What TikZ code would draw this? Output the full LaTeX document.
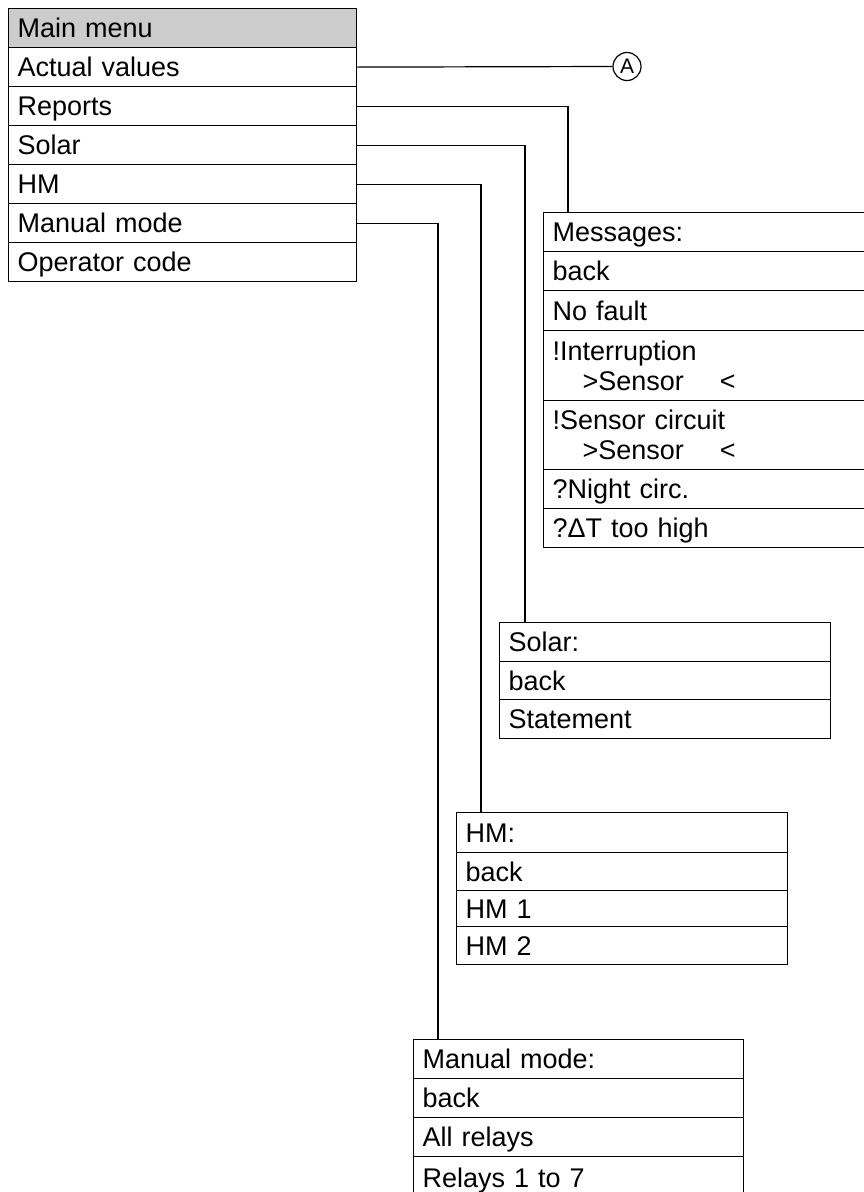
\documentclass[tikz,border=0pt]{standalone}
\usepackage{fontspec}
\setmainfont{Liberation Sans}
\begin{document}
\begin{tikzpicture}[x=1pt,y=-1pt,
  line width=1.2pt,
  rowbox/.style={draw, rectangle, anchor=north west, inner xsep=9pt, inner ysep=0pt,
    align=left, text height=19pt, text depth=0pt, minimum height=#1,
    font=\fontsize{27}{30}\selectfont},
  rowbox/.default=39pt,
  tworow/.style={rowbox=#1, text depth=30pt},
  wmain/.style={text width=330pt, minimum width=348pt},
  wmsg/.style={text width=309pt, minimum width=327pt},
  wsol/.style={text width=313pt, minimum width=331pt},
  whm/.style={text width=313pt, minimum width=331pt},
  wman/.style={text width=312pt, minimum width=330pt},
  conn/.style={draw, line width=1.2pt},
  marker/.style={draw, circle, minimum size=28pt, inner sep=0pt, line width=1.2pt,
    font=\fontsize{21}{21}\selectfont}
]
\useasboundingbox (0,0) rectangle (864,1192);
\clip (0,0) rectangle (864,1192);

% Main menu
\node[rowbox, wmain, fill=gray!40] (mm) at (8,8) {Main menu};
\node[rowbox, wmain] (av) at (8,47) {Actual values};
\node[rowbox, wmain] (rep) at (8,86) {Reports};
\node[rowbox, wmain] (sol) at (8,125) {Solar};
\node[rowbox, wmain] (hm) at (8,164) {HM};
\node[rowbox, wmain] (man) at (8,203) {Manual mode};
\node[rowbox, wmain] (opc) at (8,242) {Operator code};

% Marker A
\node[marker] (A) at (627,66.5) {A};

% Messages
\node[rowbox, wmsg] (msg0) at (543,212) {Messages:};
\node[rowbox, wmsg] (msg1) at (543,251) {back};
\node[rowbox=40pt, wmsg] (msg2) at (543,290) {No fault};
\node[tworow=70pt, wmsg] (msg3) at (543,330) {!Interruption\\\hspace*{30pt}>Sensor\hspace{36pt}<};
\node[tworow=69pt, wmsg] (msg4) at (543,400) {!Sensor circuit\\\hspace*{30pt}>Sensor\hspace{36pt}<};
\node[rowbox, wmsg] (msg5) at (543,469) {?Night circ.};
\node[rowbox, wmsg] (msg6) at (543,508) {?ΔT too high};

% Solar
\node[rowbox, wsol] (so0) at (499,622) {Solar:};
\node[rowbox=38pt, wsol] (so1) at (499,661) {back};
\node[rowbox, wsol] (so2) at (499,699) {Statement};

% HM
\node[rowbox=40pt, whm] (hm0) at (456,812) {HM:};
\node[rowbox=38pt, whm] (hm1) at (456,852) {back};
\node[rowbox=36pt, whm] (hm2) at (456,890) {HM 1};
\node[rowbox=38pt, whm] (hm3) at (456,926) {HM 2};

% Manual mode
\node[rowbox, wman] (mn0) at (413,1039) {Manual mode:};
\node[rowbox, wman] (mn1) at (413,1078) {back};
\node[rowbox, wman] (mn2) at (413,1117) {All relays};
\node[rowbox=42pt, wman] (mn3) at (413,1156) {Relays 1 to 7};

% Connectors
\draw[conn] (av.east) -- (A.west);
\draw[conn] (rep.east) -| ([xshift=25pt]msg0.north west);
\draw[conn] (sol.east) -| ([xshift=26pt]so0.north west);
\draw[conn] (hm.east) -| ([xshift=25pt]hm0.north west);
\draw[conn] (man.east) -| ([xshift=25pt]mn0.north west);
\end{tikzpicture}
\end{document}
